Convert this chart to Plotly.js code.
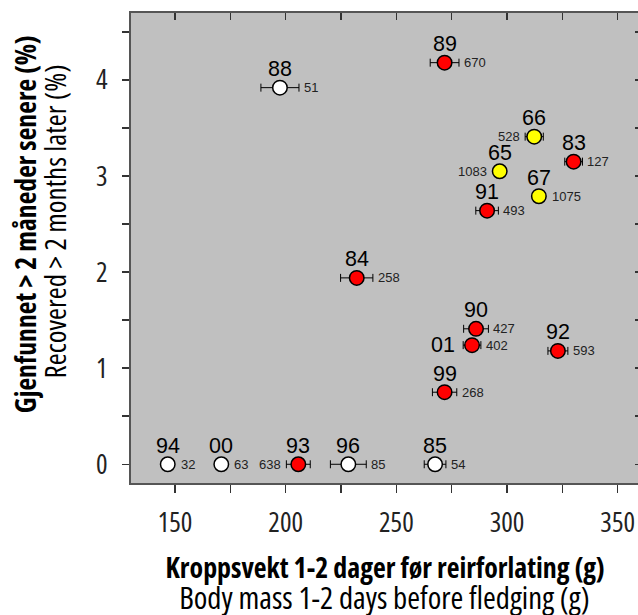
<!DOCTYPE html>
<html>
<head>
<meta charset="utf-8">
<script src="https://cdn.plot.ly/plotly-3.0.1.min.js"></script>
<style>
html, body { margin:0; padding:0; overflow:hidden; background:#fff; }
#chart { width:642px; height:615px; }
</style>
</head>
<body>
<div id="chart"></div>
<script>
// ---- data ----
const years   = ['66','65','67','83','84','85','88','89','90','91','92','93','94','96','99','00','01'];
const bodyMass = [312.3, 296.7, 314.4, 330.1, 232.1, 267.5, 197.4, 271.8, 286.0, 291.0, 323.0, 205.7, 146.7, 228.3, 271.8, 170.9, 284.2];
const recovered = [3.41, 3.05, 2.79, 3.15, 1.94, 0, 3.92, 4.18, 1.41, 2.64, 1.18, 0, 0, 0, 0.75, 0, 1.24];
const massErr = [4.1, 0, 0, 4.0, 7.3, 4.9, 8.6, 6.5, 5.6, 5.1, 4.5, 5.4, 0, 8.1, 5.5, 0, 4.0];
const nBirds  = [528, 1083, 1075, 127, 258, 54, 51, 670, 427, 493, 593, 638, 32, 85, 268, 63, 402];
const group   = ['yellow','yellow','yellow','red','red','white','white','red','red','red','red','red','white','white','red','white','red'];
const nSide   = ['left','left','right','right','right','right','right','right','right','right','right','left','right','right','right','right','right'];
const yearPos = ['above','above','above','above','above','above','above','above','above','above','above','above','above','above','above','above','left'];
const xTickVals = [150,175,200,225,250,275,300,325,350];
const xTickText = ['150','','200','','250','','300','','350'];
const yTickVals = [0,0.5,1,1.5,2,2.5,3,3.5,4,4.5];
const yTickText = ['0','','1','','2','','3','','4',''];
const xTitleBold = 'Kroppsvekt 1-2 dager før reirforlating (g)';
const xTitle = 'Body mass 1-2 days before fledging (g)';
const yTitleBold = 'Gjenfunnet > 2 måneder senere (%)';
const yTitle = 'Recovered > 2 months later (%)';

// ---- pick a narrow font that is installed ----
function measure(text, fam, st, weight, size) {
  const s = document.createElement('span');
  s.style.cssText = 'position:absolute;visibility:hidden;white-space:nowrap;';
  s.style.fontSize = size + 'px';
  s.style.fontFamily = fam;
  s.style.fontStretch = st;
  s.style.fontWeight = weight;
  s.textContent = text;
  document.body.appendChild(s);
  const w = s.getBoundingClientRect().width;
  document.body.removeChild(s);
  return w;
}
const cands = [
  {fam:'"Liberation Sans Narrow"', st:'normal'},
  {fam:'"Arial Narrow"', st:'normal'},
  {fam:'"Liberation Sans"', st:'condensed'},
  {fam:'Roboto', st:'condensed'},
  {fam:'"Noto Sans"', st:'condensed'},
  {fam:'"Open Sans"', st:'condensed'},
  {fam:'"DejaVu Sans Condensed"', st:'normal'},
  {fam:'"DejaVu Sans"', st:'condensed'}
];
let best = {fam:'"Liberation Sans"', st:'normal', w:556};
const monoW = measure('0123456789', 'monospace', 'normal', 'normal', 100);
for (const c of cands) {
  const w = measure('0123456789', c.fam + ', monospace', c.st, 'normal', 100);
  if (Math.abs(w - monoW) < 0.5) continue; // not installed
  if (Math.abs(w - 456) < Math.abs(best.w - 456)) best = {fam:c.fam, st:c.st, w:w};
}
const narrow = best.fam + ', "Liberation Sans", sans-serif';
function fitSize(text, weight, targetW) {
  const w = measure(text, narrow, best.st, weight, 40);
  return Math.round(40 * targetW / w * 10) / 10;
}
const tickSize = fitSize('150', 'normal', 34.7);
const xBoldSize = fitSize(xTitleBold, 'bold', 440);
const xRegSize = fitSize(xTitle, 'normal', 410);
const yBoldSize = fitSize(yTitleBold, 'bold', 378);
const yRegSize = fitSize(yTitle, 'normal', 314);
const esc = t => t.replace(/>/g, '&gt;');

// ---- style ----
const colorMap = {white:'#ffffff', red:'#ff0000', yellow:'#ffff00'};
const W = 642, H = 615, ML = 131, MR = 0, MT = 13, MB = 132;
const xRange = [130.1, 361];
const yRange = [-0.195, 4.697];
const ppu = (W - ML - MR) / (xRange[1] - xRange[0]);
const markerR = 8;
const arial = '"Liberation Sans", Arial, sans-serif';

const traces = [
  {
    type:'scatter', mode:'markers',
    x: bodyMass, y: recovered,
    error_x: {type:'data', array: massErr, visible:true, color:'#000', thickness:1, width:4},
    marker: {size:14.5, color: group.map(g => colorMap[g]), line:{color:'#000', width:1.5}},
    showlegend:false, hoverinfo:'skip', cliponaxis:false
  },
  {type:'scatter', x:[], y:[], xaxis:'x2', yaxis:'y2', showlegend:false, hoverinfo:'skip'}
];

const annotations = [];
for (let i = 0; i < years.length; i++) {
  const off = Math.max(massErr[i] * ppu, markerR);
  if (yearPos[i] === 'above') {
    annotations.push({x: bodyMass[i], y: recovered[i], xref:'x', yref:'y', text: years[i], showarrow:false,
      xanchor:'center', yanchor:'middle', yshift:18.5, font:{family:arial, size:21.5, color:'#000'}});
  } else {
    annotations.push({x: bodyMass[i], y: recovered[i], xref:'x', yref:'y', text: years[i], showarrow:false,
      xanchor:'right', yanchor:'middle', xshift: -(off + 6), font:{family:arial, size:21.5, color:'#000'}});
  }
  const right = nSide[i] === 'right';
  annotations.push({x: bodyMass[i], y: recovered[i], xref:'x', yref:'y', text: String(nBirds[i]), showarrow:false,
    xanchor: right ? 'left' : 'right', yanchor:'middle', xshift: right ? off + 3 : -(off + 3),
    font:{family:arial, size:13, color:'#222'}});
}
const firstTitle = annotations.length;
annotations.push({xref:'paper', yref:'paper', x:0.5, y:0, xshift:-2, yanchor:'middle', yshift:-84, showarrow:false,
  text:'<b>' + esc(xTitleBold) + '</b>', font:{family:narrow, size:xBoldSize, color:'#000'}});
annotations.push({xref:'paper', yref:'paper', x:0.5, y:0, xshift:-2, yanchor:'middle', yshift:-114, showarrow:false,
  text: esc(xTitle), font:{family:narrow, size:xRegSize, color:'#000'}});
annotations.push({xref:'paper', yref:'paper', x:0, y:0.551, xanchor:'center', xshift:-105.5, showarrow:false, textangle:-90,
  text:'<b>' + esc(yTitleBold) + '</b>', font:{family:narrow, size:yBoldSize, color:'#000'}});
annotations.push({xref:'paper', yref:'paper', x:0, y:0.555, xanchor:'center', xshift:-76, showarrow:false, textangle:-90,
  text: esc(yTitle), font:{family:narrow, size:yRegSize, color:'#000'}});

// condensed stretch (if the chosen family needs it) on ticks and titles
const sel = ['.xtick text', '.ytick text'];
for (let k = firstTitle; k < firstTitle + 4; k++) sel.push('.annotation[data-index="' + k + '"] text');
const st = document.createElement('style');
st.textContent = sel.join(', ') + ' { font-stretch: ' + best.st + '; }';
document.head.appendChild(st);

const axisCommon = {showgrid:false, zeroline:false, tickcolor:'#333', tickwidth:1.5};
const layout = {
  width: W, height: H,
  margin: {l:ML, r:MR, t:MT, b:MB, pad:0},
  paper_bgcolor:'#ffffff', plot_bgcolor:'#c0c0c0',
  showlegend:false,
  xaxis: Object.assign({}, axisCommon, {range:xRange, tickmode:'array', tickvals:xTickVals, ticktext:xTickText,
    ticks:'outside', ticklen:8, showline:true, linecolor:'#555', linewidth:2, mirror:true,
    tickfont:{family:narrow, size:tickSize, color:'#222'}, ticklabelstandoff:6}),
  yaxis: Object.assign({}, axisCommon, {range:yRange, tickmode:'array', tickvals:yTickVals, ticktext:yTickText,
    ticks:'outside', ticklen:7, showline:true, linecolor:'#555', linewidth:2, mirror:true,
    tickfont:{family:narrow, size:tickSize, color:'#222'}, ticklabelstandoff:9}),
  xaxis2: Object.assign({}, axisCommon, {overlaying:'x', side:'top', range:xRange, tickmode:'array', tickvals:xTickVals,
    ticks:'inside', ticklen:7, showticklabels:false, showline:false}),
  yaxis2: Object.assign({}, axisCommon, {overlaying:'y', side:'right', range:yRange, tickmode:'array', tickvals:yTickVals,
    ticks:'inside', ticklen:7, showticklabels:false, showline:false}),
  annotations: annotations
};

Plotly.newPlot('chart', traces, layout, {displayModeBar:false, staticPlot:true});
</script>
</body>
</html>
